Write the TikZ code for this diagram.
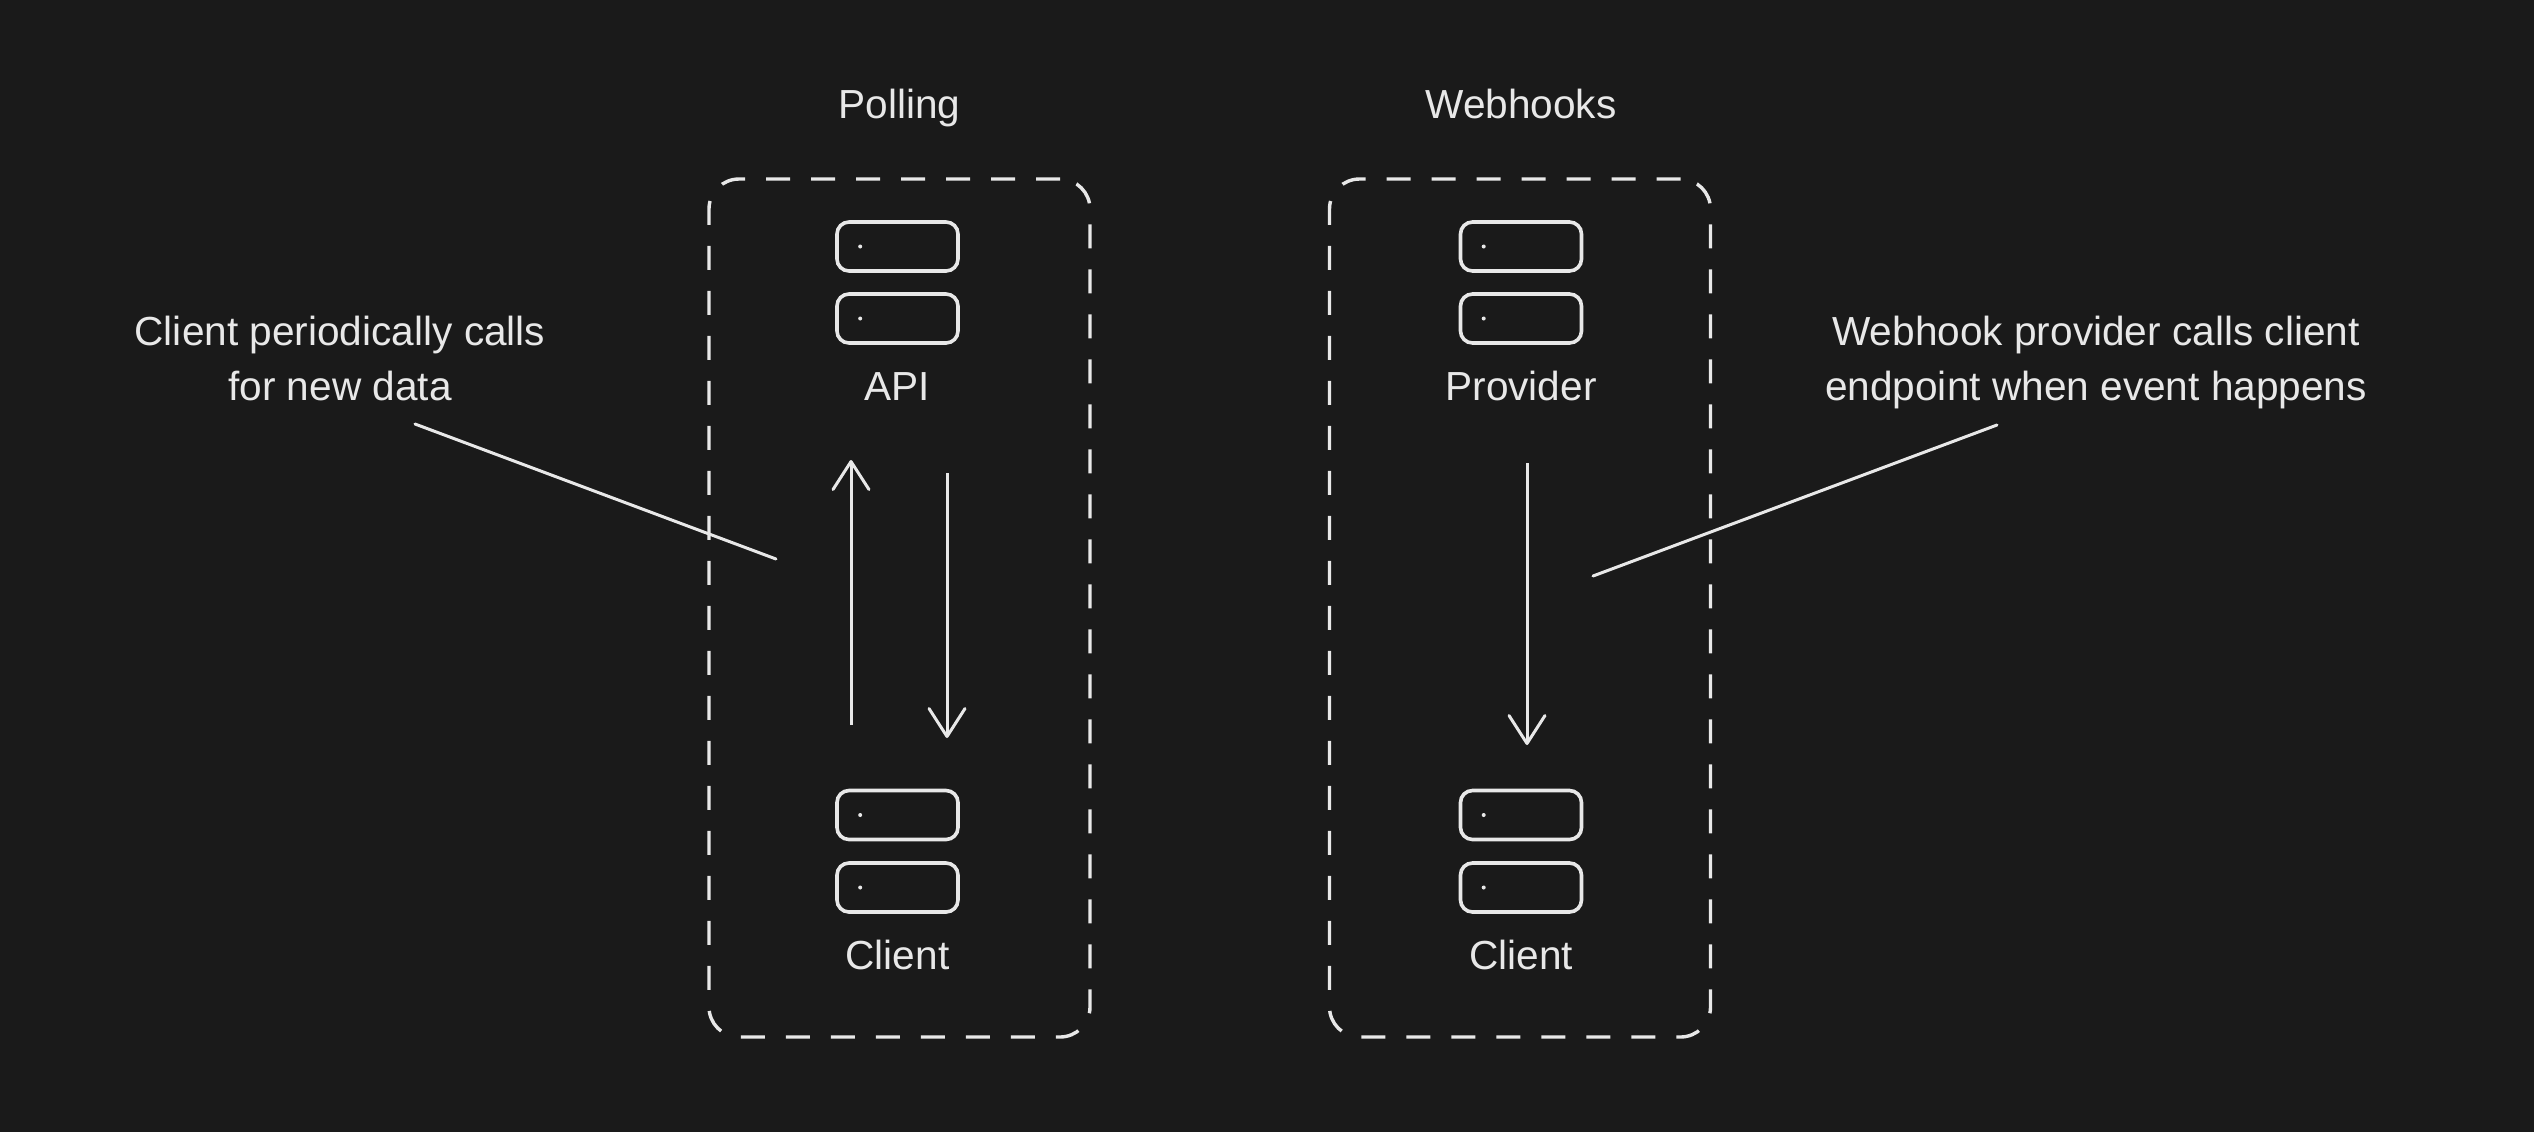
\documentclass[tikz,border=0pt]{standalone}
\usepackage{fontspec}
\setmainfont{Liberation Sans}
\usetikzlibrary{arrows.meta}
\newlength{\du}
\setlength{\du}{0.5pt}
\definecolor{canvascolor}{HTML}{1A1A1A}
\definecolor{dialinecolor}{HTML}{E8E8E8}
\tikzset{
  nametxt/.style={text=dialinecolor, font=\fontsize{20.3}{27.5}\selectfont, anchor=base, inner sep=0pt},
  notetxt/.style={text=dialinecolor, font=\fontsize{20.3}{27.5}\selectfont, align=center, inner sep=0pt},
  rackunit/.style={draw=dialinecolor, line width=1.8pt, rounded corners=12\du, minimum width=121\du, minimum height=49\du, inner sep=0pt},
  groupbox/.style={draw=dialinecolor, line width=1.7pt, dash pattern=on 24\du off 21\du, rounded corners=30\du, minimum width=381\du, minimum height=858\du, inner sep=0pt},
  flowline/.style={draw=dialinecolor, line width=1.5pt, -{Straight Barb[length=14pt,width=18pt,round]}},
  noteline/.style={draw=dialinecolor, line width=1.5pt, line cap=round},
}
\begin{document}
\begin{tikzpicture}
\pgftransformxscale{1.000000}
\pgftransformyscale{-1.000000}
\fill[canvascolor] (0\du,0\du) rectangle (2534\du,1132\du);
\useasboundingbox (0\du,0\du) rectangle (2534\du,1132\du);
% polling
\node[nametxt] (polltitle) at (899.5\du,118\du) {Polling};
\node[groupbox] (pollbox) at (899.5\du,608\du) {};
\node[rackunit] (api1) at (897.5\du,246.5\du) {};
\node[rackunit] (api2) at (897.5\du,318.5\du) {};
\fill[dialinecolor] ([xshift=25\du]api1.west) circle (2\du);
\fill[dialinecolor] ([xshift=25\du]api2.west) circle (2\du);
\node[nametxt] (apiname) at (897.5\du,400\du) {API};
\node[rackunit] (pclient1) at (897.5\du,815\du) {};
\node[rackunit] (pclient2) at (897.5\du,887.5\du) {};
\fill[dialinecolor] ([xshift=25\du]pclient1.west) circle (2\du);
\fill[dialinecolor] ([xshift=25\du]pclient2.west) circle (2\du);
\node[nametxt] (pclientname) at (897.5\du,969\du) {Client};
\coordinate (polluptail) at (851\du,725\du);
\coordinate (pollupend) at (851\du,460\du);
\coordinate (polldowntail) at (947\du,473\du);
\coordinate (polldownend) at (947\du,738\du);
\draw[flowline] (polluptail) -- (pollupend);
\draw[flowline] (polldowntail) -- (polldownend);
\node[notetxt] (pollnote) at (340\du,358\du) {Client periodically calls\\for new data};
\coordinate (pollnotefrom) at (415\du,424\du);
\coordinate (pollnoteto) at (776\du,559\du);
\draw[noteline] (pollnotefrom) -- (pollnoteto);
% webhooks
\node[nametxt] (hooktitle) at (1521\du,118\du) {Webhooks};
\node[groupbox] (hookbox) at (1520\du,608\du) {};
\node[rackunit] (prov1) at (1521\du,246.5\du) {};
\node[rackunit] (prov2) at (1521\du,318.5\du) {};
\fill[dialinecolor] ([xshift=25\du]prov1.west) circle (2\du);
\fill[dialinecolor] ([xshift=25\du]prov2.west) circle (2\du);
\node[nametxt] (provname) at (1521\du,400\du) {Provider};
\node[rackunit] (hclient1) at (1521\du,815\du) {};
\node[rackunit] (hclient2) at (1521\du,887.5\du) {};
\fill[dialinecolor] ([xshift=25\du]hclient1.west) circle (2\du);
\fill[dialinecolor] ([xshift=25\du]hclient2.west) circle (2\du);
\node[nametxt] (hclientname) at (1521\du,969\du) {Client};
\coordinate (hooktail) at (1527\du,463\du);
\coordinate (hookend) at (1527\du,745\du);
\draw[flowline] (hooktail) -- (hookend);
\node[notetxt] (hooknote) at (2096\du,362\du) {Webhook provider calls client\\endpoint when event happens};
\coordinate (hooknotefrom) at (1997\du,425\du);
\coordinate (hooknoteto) at (1593\du,576\du);
\draw[noteline] (hooknotefrom) -- (hooknoteto);
\end{tikzpicture}
\end{document}
